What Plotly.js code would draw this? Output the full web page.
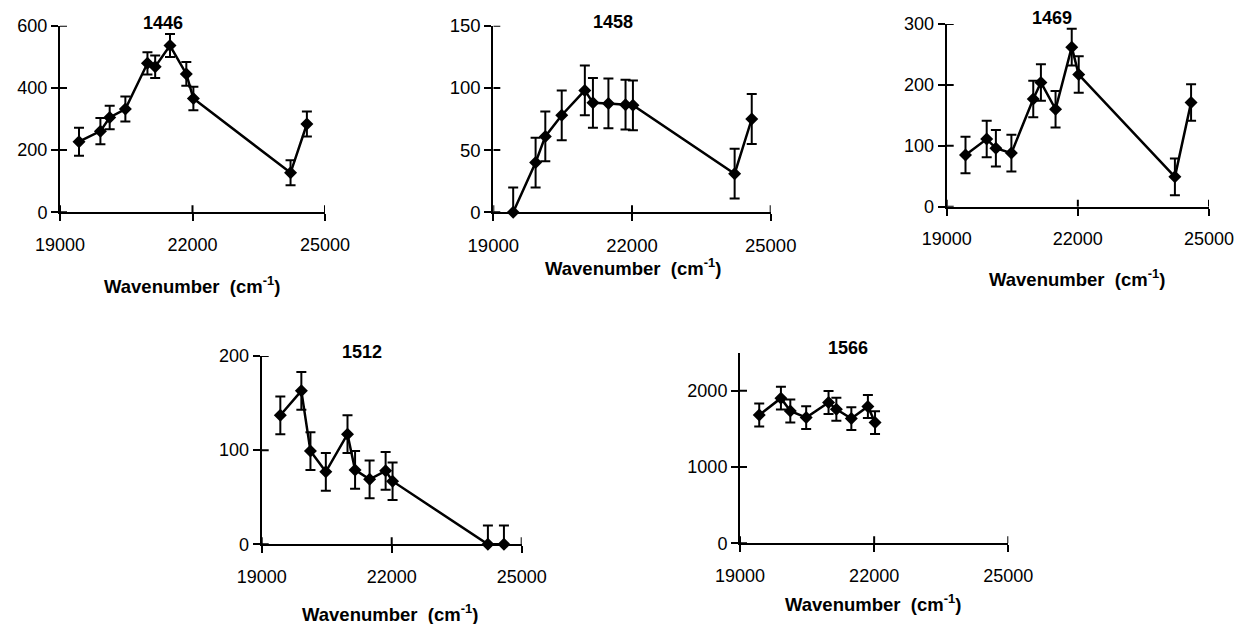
<!DOCTYPE html>
<html>
<head>
<meta charset="utf-8">
<script src="https://cdn.plot.ly/plotly-3.0.1.min.js"></script>
<style>html,body{margin:0;padding:0;background:#fff;}#chart{width:1235px;height:624px;}</style>
</head>
<body>
<div id="chart"></div>
<script>
// Wavenumbers (cm^-1) shared by all panels
const wavenumbers = [19430, 19915, 20125, 20480, 20980, 21155, 21490, 21860, 22020, 24220, 24590];

// Panel titles
const panelTitles = ["1446", "1458", "1469", "1512", "1566"];

// Series values and error bars
const y1446 = [227, 261, 305, 332, 479, 468, 536, 445, 366, 127, 284];
const e1446 = [45, 42, 38, 40, 36, 36, 37, 38, 38, 40, 40];

const y1458 = [0, 40, 61, 78, 98, 88, 87.5, 86.5, 86, 31, 75];
const e1458 = [20, 20, 20, 20, 20, 20, 20, 20, 20, 20, 20];

const y1469 = [85, 111, 96, 88, 177, 204, 160, 262, 217, 49, 171];
const e1469 = [30, 30, 30, 30, 30, 30, 30, 30, 30, 30, 30];

const y1512 = [137, 163, 99, 77, 117, 79, 69, 78, 67, 0, 0];
const e1512 = [20, 20, 20, 20, 20, 20, 20, 20, 20, 20, 20];

const y1566 = [1683, 1904, 1736, 1649, 1847, 1759, 1636, 1794, 1583];
const e1566 = [150, 150, 150, 150, 150, 150, 150, 150, 150];

// Tick labels
const xTicks = [19000, 22000, 25000];
const yTicks = [
  [0, 200, 400, 600],
  [0, 50, 100, 150],
  [0, 100, 200, 300],
  [0, 100, 200],
  [0, 1000, 2000]
];
const yRanges = [[0, 600], [0, 150], [0, 300], [0, 200], [0, 2500]];

const seriesY = [y1446, y1458, y1469, y1512, y1566];
const seriesE = [e1446, e1458, e1469, e1512, e1566];

// Layout geometry (pixels)
const W = 1235, H = 624;
const boxes = [
  {x0: 60,    x1: 325,   y0: 25.7,  y1: 212.3, tx: 163,   ty: 23,   lx: 192,   ly: 285},
  {x0: 493.3, x1: 770.7, y0: 25.7,  y1: 212.3, tx: 613,   ty: 21.7, lx: 632.5, ly: 267},
  {x0: 946.7, x1: 1209,  y0: 24,    y1: 206.7, tx: 1051.7,ty: 18.3, lx: 1076.7,ly: 278},
  {x0: 261.7, x1: 521.7, y0: 356,   y1: 544.3, tx: 361.7, ty: 351.7,lx: 390,   ly: 613},
  {x0: 740,   x1: 1008.3,y0: 352.7, y1: 543.3, tx: 847.7, ty: 348.3,lx: 873.3, ly: 603.3}
];
const tickSizes = [18, 18.5, 18, 18, 18];

const FONT = "Liberation Sans, Arial, Helvetica, sans-serif";
const TL = 7;
const traces = [];
const shapes = [];
const layout = {
  width: W, height: H,
  margin: {l: 0, r: 0, t: 0, b: 0},
  paper_bgcolor: "#fff", plot_bgcolor: "rgba(0,0,0,0)",
  showlegend: false,
  font: {family: FONT, color: "#000"},
  annotations: [],
  shapes: shapes
};

boxes.forEach((b, i) => {
  const n = i + 1;
  const xa = "x" + (n === 1 ? "" : n), ya = "y" + (n === 1 ? "" : n);
  const xKey = "xaxis" + (n === 1 ? "" : n), yKey = "yaxis" + (n === 1 ? "" : n);
  const xs = wavenumbers.slice(0, seriesY[i].length);
  traces.push({
    type: "scatter", mode: "lines+markers",
    x: xs, y: seriesY[i],
    xaxis: xa, yaxis: ya,
    line: {color: "#000", width: 2.5},
    marker: {symbol: "diamond", size: 10, color: "#000"},
    error_y: {type: "data", array: seriesE[i], visible: true, color: "#000", thickness: 2, width: 5},
    cliponaxis: false, hoverinfo: "x+y"
  });
  const xdom = [b.x0 / W, b.x1 / W];
  const ydom = [1 - b.y1 / H, 1 - b.y0 / H];
  const common = {showgrid: false, zeroline: false, linecolor: "#000", linewidth: 2,
    tickcolor: "#000", tickwidth: 2, ticklen: TL, fixedrange: true};
  layout[xKey] = Object.assign({}, common, {
    domain: xdom, anchor: ya, range: [19000, 25000], tickmode: "array",
    tickvals: xTicks, ticktext: xTicks.map(String), ticks: "outside", showline: true,
    ticklabelstandoff: 8,
    tickfont: {family: FONT, size: tickSizes[i], color: "#000"}
  });
  layout[yKey] = Object.assign({}, common, {
    domain: ydom, anchor: xa, range: yRanges[i], tickmode: "array",
    tickvals: yTicks[i], ticktext: yTicks[i].map(String), ticks: "outside", showline: true,
    ticklabelstandoff: 0,
    tickfont: {family: FONT, size: tickSizes[i], color: "#000"}
  });
  // inner halves of the crossing tick marks
  xTicks.forEach(v => {
    shapes.push({type: "line", xref: xa, yref: ya, ysizemode: "pixel", yanchor: yRanges[i][0],
      x0: v, x1: v, y0: 0, y1: TL, line: {color: "#000", width: 2}, layer: "above"});
  });
  yTicks[i].forEach(v => {
    shapes.push({type: "line", xref: xa, yref: ya, xsizemode: "pixel", xanchor: 19000,
      y0: v, y1: v, x0: 0, x1: TL, line: {color: "#000", width: 2}, layer: "above"});
  });

  layout.annotations.push({
    xref: "paper", yref: "paper", x: b.tx / W, y: 1 - b.ty / H,
    xanchor: "center", yanchor: "middle", showarrow: false,
    text: "<b>" + panelTitles[i] + "</b>", font: {family: FONT, size: 18, color: "#000"}
  });
  layout.annotations.push({
    xref: "paper", yref: "paper", x: b.lx / W, y: 1 - b.ly / H,
    xanchor: "center", yanchor: "middle", showarrow: false,
    text: "<b>Wavenumber  (cm<sup>-1</sup>)</b>", font: {family: FONT, size: 18.5, color: "#000"}
  });
});

Plotly.newPlot("chart", traces, layout, {staticPlot: true, displayModeBar: false});
</script>
</body>
</html>
